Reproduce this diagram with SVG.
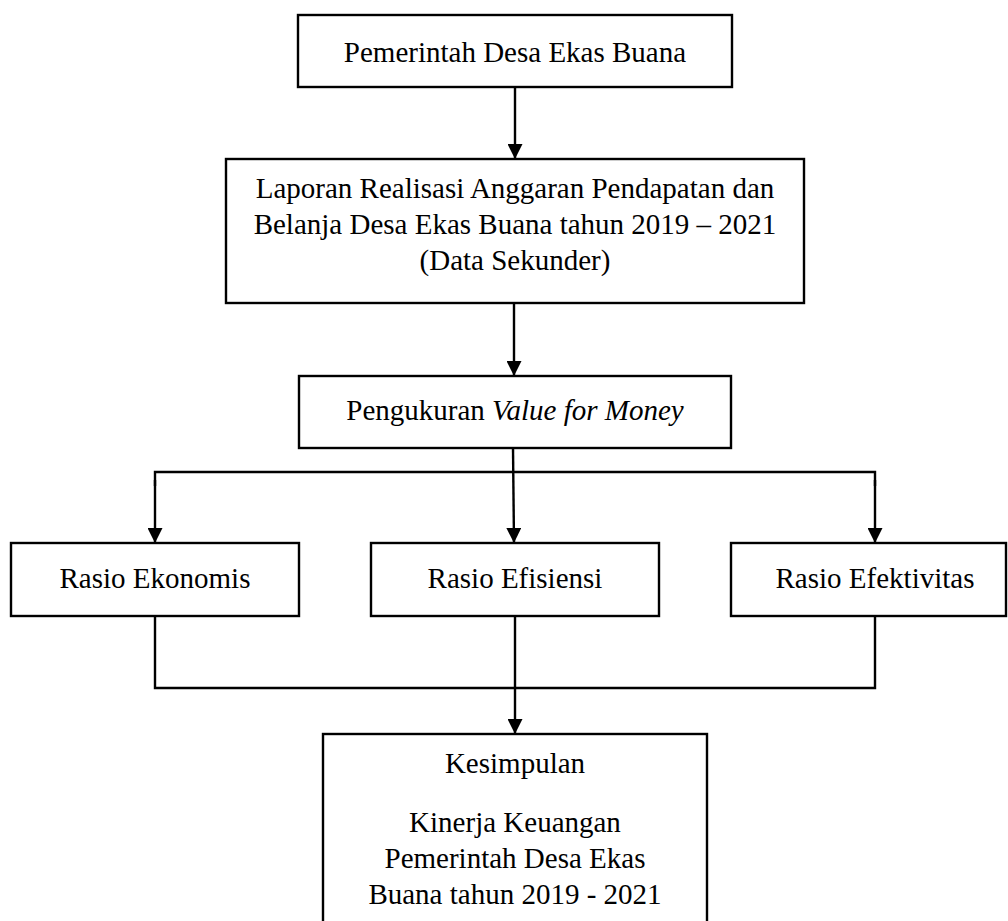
<svg xmlns="http://www.w3.org/2000/svg" width="1008" height="921" viewBox="0 0 1008 921">
<style>
.box{fill:#fff;stroke:#000;stroke-width:2.4}
.t{font-family:"Liberation Serif","Times New Roman",serif;font-size:29px;fill:#000;text-anchor:middle}
.c{fill:none;stroke:#000;stroke-width:2.4}
</style>
<defs>
<marker id="ah" markerWidth="15" markerHeight="15" refX="15" refY="7.5" orient="auto" markerUnits="userSpaceOnUse" viewBox="0 0 15 15">
<path d="M0,0 L15,7.5 L0,15 Z" fill="#000"/>
</marker>
</defs>
<rect width="1008" height="921" fill="#fff"/>
<g id="connectors">
<line class="c" x1="515" y1="87" x2="515" y2="159" marker-end="url(#ah)"/>
<line class="c" x1="514" y1="303" x2="514" y2="376" marker-end="url(#ah)"/>
<line class="c" x1="513" y1="448" x2="514" y2="543" marker-end="url(#ah)"/>
<polyline class="c" points="155,486 155,472 875,472 875,486"/>
<line class="c" x1="155" y1="480" x2="155" y2="543" marker-end="url(#ah)"/>
<line class="c" x1="875" y1="480" x2="875" y2="543" marker-end="url(#ah)"/>
<polyline class="c" points="155,616 155,688 875,688 875,616"/>
<line class="c" x1="515" y1="615" x2="515" y2="734" marker-end="url(#ah)"/>
</g>
<g id="n1">
<rect class="box" x="298" y="15" width="434" height="72"/>
<text class="t" x="515" y="62">Pemerintah Desa Ekas Buana</text>
</g>
<g id="n2">
<rect class="box" x="226" y="159" width="578" height="144"/>
<text class="t" x="515" y="198">Laporan Realisasi Anggaran Pendapatan dan</text>
<text class="t" x="515" y="234">Belanja Desa Ekas Buana tahun 2019 – 2021</text>
<text class="t" x="515" y="270">(Data Sekunder)</text>
</g>
<g id="n3">
<rect class="box" x="299" y="376" width="432" height="72"/>
<text class="t" x="515" y="420">Pengukuran <tspan font-style="italic">Value for Money</tspan></text>
</g>
<g id="n4">
<rect class="box" x="11" y="543" width="288" height="73"/>
<text class="t" x="155" y="588">Rasio Ekonomis</text>
</g>
<g id="n5">
<rect class="box" x="371" y="543" width="288" height="73"/>
<text class="t" x="515" y="588">Rasio Efisiensi</text>
</g>
<g id="n6">
<rect class="box" x="731" y="543" width="275" height="73"/>
<text class="t" x="875" y="588">Rasio Efektivitas</text>
</g>
<g id="n7">
<rect class="box" x="323" y="734" width="384" height="200"/>
<text class="t" x="515" y="773">Kesimpulan</text>
<text class="t" x="515" y="832">Kinerja Keuangan</text>
<text class="t" x="515" y="868">Pemerintah Desa Ekas</text>
<text class="t" x="515" y="904">Buana tahun 2019 - 2021</text>
</g>
</svg>
